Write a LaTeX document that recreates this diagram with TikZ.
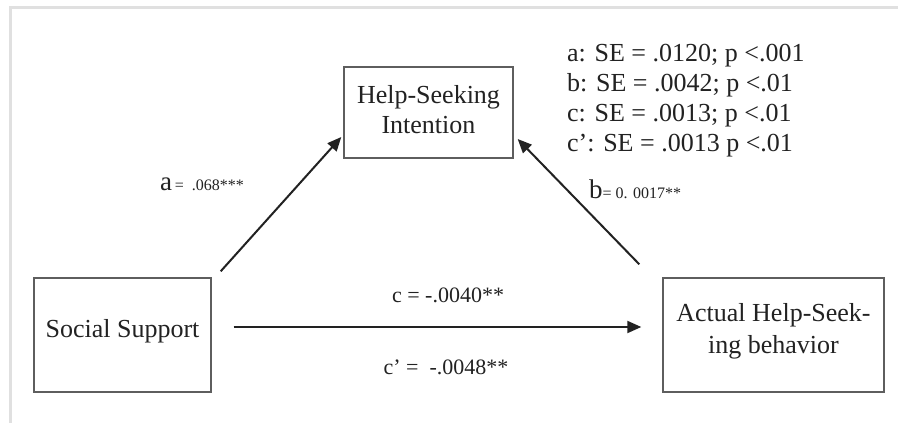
\documentclass[tikz,border=0pt]{standalone}
\usepackage{fontspec}
\setmainfont{Liberation Serif}
\usetikzlibrary{arrows.meta}
\definecolor{txt}{HTML}{222222}
\definecolor{boxc}{HTML}{5E5E5E}
\definecolor{framec}{HTML}{E0E0E0}
\begin{document}
\begin{tikzpicture}[x=1pt,y=-1pt,
  varbox/.style={draw=boxc, line width=1.4pt, text=txt, align=center, inner sep=0pt},
  bigfont/.style={font=\fontsize{26}{30}\selectfont},
  midfont/.style={font=\fontsize{22}{26}\selectfont},
  arr/.style={draw=txt, line width=2pt, -{Triangle[length=14pt,width=12pt]}},
  lbl/.style={text=txt, inner sep=0pt}]
\useasboundingbox (0,0) rectangle (898,423);
\fill[white] (0,0) rectangle (898,423);
\draw[framec, line width=3pt] (10,423) -- (10,7.5) -- (898,7.5);

\node[varbox, bigfont, text depth=13pt, minimum width=177pt, minimum height=114pt] (ss) at (122.5,335) {Social Support};
\node[varbox, font=\fontsize{26}{32}\selectfont, text depth=12.5pt, minimum width=221pt, minimum height=114pt] (ahs) at (773.5,335) {Actual Help-Seek-\\ing behavior};
\node[varbox, bigfont, text depth=6.5pt, minimum width=169pt, minimum height=91pt] (hsi) at (428.5,112.5) {Help-Seeking\\Intention};

\draw[arr] ([shift={(9,-6)}]ss.north east) -- ([shift={(-2,24.5)}]hsi.west);
\draw[arr] ([shift={(-23,-13)}]ahs.north west) -- ([shift={(4,26.5)}]hsi.east);
\draw[arr] ([shift={(22,-8)}]ss.east) -- ([shift={(-21,-8)}]ahs.west);

\node[lbl, anchor=base west] (la) at (160,190) {{\fontsize{27}{30}\selectfont a}{\fontsize{16}{20}\selectfont\,= \ .068***}};
\node[lbl, anchor=base west] (lb) at (589,198) {{\fontsize{27}{30}\selectfont b}{\fontsize{16}{20}\selectfont= 0. 0017**}};
\node[lbl, midfont] (lc) at (448,295) {c = -.0040**};
\node[lbl, midfont] (lcp) at (446,367) {c’ =\ \ -.0048**};

\node[lbl, bigfont, anchor=base west] (se1) at (567,61) {a: SE = .0120; p <.001};
\node[lbl, bigfont, anchor=base west] (se2) at (567,91) {b: SE = .0042; p <.01};
\node[lbl, bigfont, anchor=base west] (se3) at (567,121) {c: SE = .0013; p <.01};
\node[lbl, bigfont, anchor=base west] (se4) at (567,151) {c’: SE = .0013 p <.01};
\end{tikzpicture}
\end{document}
